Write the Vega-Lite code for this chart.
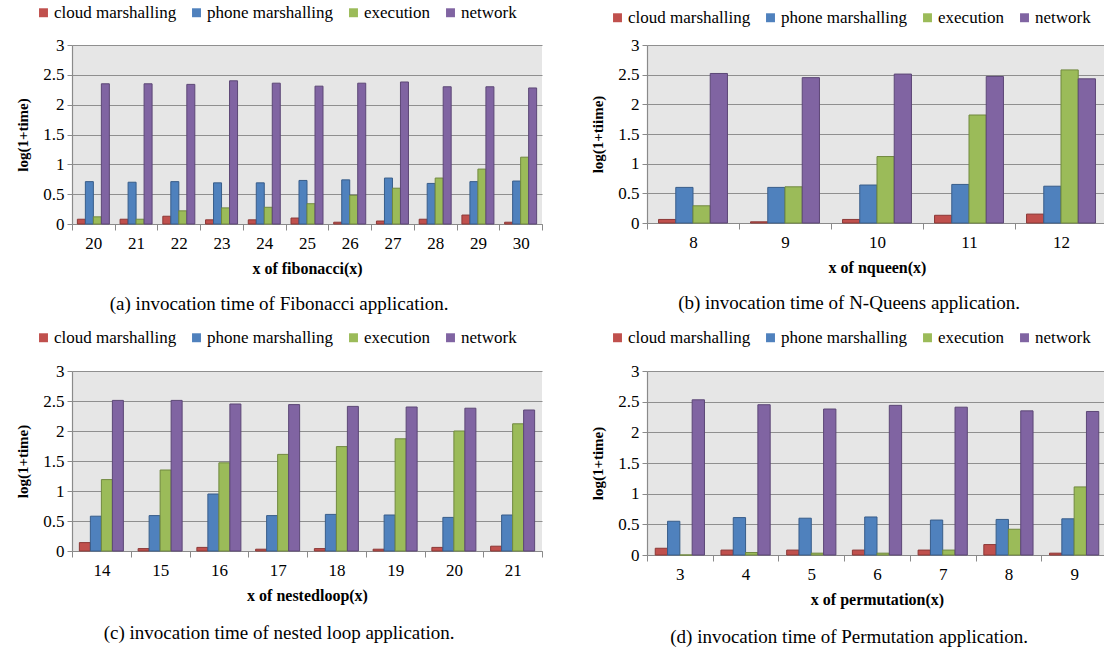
{
  "$schema": "https://vega.github.io/schema/vega-lite/v6.json",
  "padding": {"left": 15, "top": 4, "right": 0, "bottom": 0},
  "background": "white",
  "data": {"values": [
    {"panel":"a","x":20,"series":"cloud marshalling","value":0.08},
    {"panel":"a","x":20,"series":"phone marshalling","value":0.71},
    {"panel":"a","x":20,"series":"execution","value":0.12},
    {"panel":"a","x":20,"series":"network","value":2.35},
    {"panel":"a","x":21,"series":"cloud marshalling","value":0.08},
    {"panel":"a","x":21,"series":"phone marshalling","value":0.70},
    {"panel":"a","x":21,"series":"execution","value":0.08},
    {"panel":"a","x":21,"series":"network","value":2.35},
    {"panel":"a","x":22,"series":"cloud marshalling","value":0.13},
    {"panel":"a","x":22,"series":"phone marshalling","value":0.71},
    {"panel":"a","x":22,"series":"execution","value":0.22},
    {"panel":"a","x":22,"series":"network","value":2.34},
    {"panel":"a","x":23,"series":"cloud marshalling","value":0.07},
    {"panel":"a","x":23,"series":"phone marshalling","value":0.69},
    {"panel":"a","x":23,"series":"execution","value":0.27},
    {"panel":"a","x":23,"series":"network","value":2.40},
    {"panel":"a","x":24,"series":"cloud marshalling","value":0.07},
    {"panel":"a","x":24,"series":"phone marshalling","value":0.69},
    {"panel":"a","x":24,"series":"execution","value":0.28},
    {"panel":"a","x":24,"series":"network","value":2.36},
    {"panel":"a","x":25,"series":"cloud marshalling","value":0.10},
    {"panel":"a","x":25,"series":"phone marshalling","value":0.73},
    {"panel":"a","x":25,"series":"execution","value":0.34},
    {"panel":"a","x":25,"series":"network","value":2.31},
    {"panel":"a","x":26,"series":"cloud marshalling","value":0.03},
    {"panel":"a","x":26,"series":"phone marshalling","value":0.74},
    {"panel":"a","x":26,"series":"execution","value":0.48},
    {"panel":"a","x":26,"series":"network","value":2.36},
    {"panel":"a","x":27,"series":"cloud marshalling","value":0.05},
    {"panel":"a","x":27,"series":"phone marshalling","value":0.77},
    {"panel":"a","x":27,"series":"execution","value":0.60},
    {"panel":"a","x":27,"series":"network","value":2.38},
    {"panel":"a","x":28,"series":"cloud marshalling","value":0.08},
    {"panel":"a","x":28,"series":"phone marshalling","value":0.68},
    {"panel":"a","x":28,"series":"execution","value":0.77},
    {"panel":"a","x":28,"series":"network","value":2.30},
    {"panel":"a","x":29,"series":"cloud marshalling","value":0.15},
    {"panel":"a","x":29,"series":"phone marshalling","value":0.71},
    {"panel":"a","x":29,"series":"execution","value":0.92},
    {"panel":"a","x":29,"series":"network","value":2.30},
    {"panel":"a","x":30,"series":"cloud marshalling","value":0.03},
    {"panel":"a","x":30,"series":"phone marshalling","value":0.72},
    {"panel":"a","x":30,"series":"execution","value":1.12},
    {"panel":"a","x":30,"series":"network","value":2.28},
    {"panel":"b","x":8,"series":"cloud marshalling","value":0.06},
    {"panel":"b","x":8,"series":"phone marshalling","value":0.60},
    {"panel":"b","x":8,"series":"execution","value":0.29},
    {"panel":"b","x":8,"series":"network","value":2.52},
    {"panel":"b","x":9,"series":"cloud marshalling","value":0.02},
    {"panel":"b","x":9,"series":"phone marshalling","value":0.60},
    {"panel":"b","x":9,"series":"execution","value":0.61},
    {"panel":"b","x":9,"series":"network","value":2.45},
    {"panel":"b","x":10,"series":"cloud marshalling","value":0.06},
    {"panel":"b","x":10,"series":"phone marshalling","value":0.64},
    {"panel":"b","x":10,"series":"execution","value":1.12},
    {"panel":"b","x":10,"series":"network","value":2.51},
    {"panel":"b","x":11,"series":"cloud marshalling","value":0.13},
    {"panel":"b","x":11,"series":"phone marshalling","value":0.65},
    {"panel":"b","x":11,"series":"execution","value":1.82},
    {"panel":"b","x":11,"series":"network","value":2.47},
    {"panel":"b","x":12,"series":"cloud marshalling","value":0.15},
    {"panel":"b","x":12,"series":"phone marshalling","value":0.62},
    {"panel":"b","x":12,"series":"execution","value":2.58},
    {"panel":"b","x":12,"series":"network","value":2.43},
    {"panel":"c","x":14,"series":"cloud marshalling","value":0.14},
    {"panel":"c","x":14,"series":"phone marshalling","value":0.58},
    {"panel":"c","x":14,"series":"execution","value":1.19},
    {"panel":"c","x":14,"series":"network","value":2.51},
    {"panel":"c","x":15,"series":"cloud marshalling","value":0.04},
    {"panel":"c","x":15,"series":"phone marshalling","value":0.59},
    {"panel":"c","x":15,"series":"execution","value":1.35},
    {"panel":"c","x":15,"series":"network","value":2.51},
    {"panel":"c","x":16,"series":"cloud marshalling","value":0.06},
    {"panel":"c","x":16,"series":"phone marshalling","value":0.95},
    {"panel":"c","x":16,"series":"execution","value":1.47},
    {"panel":"c","x":16,"series":"network","value":2.45},
    {"panel":"c","x":17,"series":"cloud marshalling","value":0.03},
    {"panel":"c","x":17,"series":"phone marshalling","value":0.59},
    {"panel":"c","x":17,"series":"execution","value":1.61},
    {"panel":"c","x":17,"series":"network","value":2.44},
    {"panel":"c","x":18,"series":"cloud marshalling","value":0.04},
    {"panel":"c","x":18,"series":"phone marshalling","value":0.61},
    {"panel":"c","x":18,"series":"execution","value":1.74},
    {"panel":"c","x":18,"series":"network","value":2.41},
    {"panel":"c","x":19,"series":"cloud marshalling","value":0.03},
    {"panel":"c","x":19,"series":"phone marshalling","value":0.60},
    {"panel":"c","x":19,"series":"execution","value":1.87},
    {"panel":"c","x":19,"series":"network","value":2.40},
    {"panel":"c","x":20,"series":"cloud marshalling","value":0.06},
    {"panel":"c","x":20,"series":"phone marshalling","value":0.56},
    {"panel":"c","x":20,"series":"execution","value":2.00},
    {"panel":"c","x":20,"series":"network","value":2.38},
    {"panel":"c","x":21,"series":"cloud marshalling","value":0.08},
    {"panel":"c","x":21,"series":"phone marshalling","value":0.60},
    {"panel":"c","x":21,"series":"execution","value":2.12},
    {"panel":"c","x":21,"series":"network","value":2.35},
    {"panel":"d","x":3,"series":"cloud marshalling","value":0.11},
    {"panel":"d","x":3,"series":"phone marshalling","value":0.55},
    {"panel":"d","x":3,"series":"execution","value":0.0},
    {"panel":"d","x":3,"series":"network","value":2.53},
    {"panel":"d","x":4,"series":"cloud marshalling","value":0.08},
    {"panel":"d","x":4,"series":"phone marshalling","value":0.61},
    {"panel":"d","x":4,"series":"execution","value":0.04},
    {"panel":"d","x":4,"series":"network","value":2.45},
    {"panel":"d","x":5,"series":"cloud marshalling","value":0.08},
    {"panel":"d","x":5,"series":"phone marshalling","value":0.60},
    {"panel":"d","x":5,"series":"execution","value":0.03},
    {"panel":"d","x":5,"series":"network","value":2.38},
    {"panel":"d","x":6,"series":"cloud marshalling","value":0.08},
    {"panel":"d","x":6,"series":"phone marshalling","value":0.62},
    {"panel":"d","x":6,"series":"execution","value":0.03},
    {"panel":"d","x":6,"series":"network","value":2.44},
    {"panel":"d","x":7,"series":"cloud marshalling","value":0.08},
    {"panel":"d","x":7,"series":"phone marshalling","value":0.57},
    {"panel":"d","x":7,"series":"execution","value":0.08},
    {"panel":"d","x":7,"series":"network","value":2.41},
    {"panel":"d","x":8,"series":"cloud marshalling","value":0.17},
    {"panel":"d","x":8,"series":"phone marshalling","value":0.58},
    {"panel":"d","x":8,"series":"execution","value":0.42},
    {"panel":"d","x":8,"series":"network","value":2.35},
    {"panel":"d","x":9,"series":"cloud marshalling","value":0.03},
    {"panel":"d","x":9,"series":"phone marshalling","value":0.59},
    {"panel":"d","x":9,"series":"execution","value":1.11},
    {"panel":"d","x":9,"series":"network","value":2.34}
  ]},
  "resolve": {"scale": {"color": "independent", "stroke": "independent", "x": "independent", "y": "independent", "xOffset": "independent"}, "legend": {"color": "independent"}},
  "spacing": 15,
  "vconcat": [
    {
      "spacing": 47,
      "resolve": {"scale": {"color": "independent", "stroke": "independent", "x": "independent", "y": "independent", "xOffset": "independent"}, "legend": {"color": "independent"}},
      "hconcat": [
        {
          "width": 470, "height": 179,
          "title": {"text": "(a) invocation time of Fibonacci application.", "offset": 19},
          "transform": [{"filter": "datum.panel === 'a'"}],
          "mark": {"type": "bar", "strokeWidth": 1},
          "encoding": {
            "x": {"field": "x", "type": "ordinal", "title": "x of fibonacci(x)", "scale": {"paddingInner": 0, "paddingOuter": 0}},
            "xOffset": {"field": "series", "type": "nominal", "sort": ["cloud marshalling", "phone marshalling", "execution", "network"], "scale": {"paddingInner": 0, "paddingOuter": 0.67}},
            "y": {"field": "value", "type": "quantitative", "title": "log(1+time)", "scale": {"domain": [0, 3]}},
            "color": {"field": "series", "type": "nominal", "scale": {"domain": ["cloud marshalling", "phone marshalling", "execution", "network"], "range": ["#c0504d", "#4f81bd", "#9bbb59", "#8064a2"]}, "legend": {"legendX": -37, "legendY": -41}},
            "stroke": {"field": "series", "type": "nominal", "scale": {"domain": ["cloud marshalling", "phone marshalling", "execution", "network"], "range": ["#8c3836", "#385d8a", "#71893f", "#5c4776"]}, "legend": null}
          }
        },
        {
          "width": 460, "height": 178,
          "title": {"text": "(b) invocation time of N-Queens application.", "offset": 19},
          "transform": [{"filter": "datum.panel === 'b'"}],
          "mark": {"type": "bar", "strokeWidth": 1},
          "encoding": {
            "x": {"field": "x", "type": "ordinal", "title": "x of nqueen(x)", "scale": {"paddingInner": 0, "paddingOuter": 0}},
            "xOffset": {"field": "series", "type": "nominal", "sort": ["cloud marshalling", "phone marshalling", "execution", "network"], "scale": {"paddingInner": 0, "paddingOuter": 0.67}},
            "y": {"field": "value", "type": "quantitative", "title": "log(1+tiime)", "scale": {"domain": [0, 3]}},
            "color": {"field": "series", "type": "nominal", "scale": {"domain": ["cloud marshalling", "phone marshalling", "execution", "network"], "range": ["#c0504d", "#4f81bd", "#9bbb59", "#8064a2"]}, "legend": {"legendX": -38, "legendY": -36}},
            "stroke": {"field": "series", "type": "nominal", "scale": {"domain": ["cloud marshalling", "phone marshalling", "execution", "network"], "range": ["#8c3836", "#385d8a", "#71893f", "#5c4776"]}, "legend": null}
          }
        }
      ]
    },
    {
      "spacing": 47,
      "resolve": {"scale": {"color": "independent", "stroke": "independent", "x": "independent", "y": "independent", "xOffset": "independent"}, "legend": {"color": "independent"}},
      "hconcat": [
        {
          "width": 470, "height": 180,
          "title": {"text": "(c) invocation time of nested loop application.", "offset": 21},
          "transform": [{"filter": "datum.panel === 'c'"}],
          "mark": {"type": "bar", "strokeWidth": 1},
          "encoding": {
            "x": {"field": "x", "type": "ordinal", "title": "x of nestedloop(x)", "scale": {"paddingInner": 0, "paddingOuter": 0}},
            "xOffset": {"field": "series", "type": "nominal", "sort": ["cloud marshalling", "phone marshalling", "execution", "network"], "scale": {"paddingInner": 0, "paddingOuter": 0.67}},
            "y": {"field": "value", "type": "quantitative", "title": "log(1+time)", "scale": {"domain": [0, 3]}},
            "color": {"field": "series", "type": "nominal", "scale": {"domain": ["cloud marshalling", "phone marshalling", "execution", "network"], "range": ["#c0504d", "#4f81bd", "#9bbb59", "#8064a2"]}, "legend": {"legendX": -37, "legendY": -42}},
            "stroke": {"field": "series", "type": "nominal", "scale": {"domain": ["cloud marshalling", "phone marshalling", "execution", "network"], "range": ["#8c3836", "#385d8a", "#71893f", "#5c4776"]}, "legend": null}
          }
        },
        {
          "width": 460, "height": 184,
          "title": {"text": "(d) invocation time of Permutation application.", "offset": 21},
          "transform": [{"filter": "datum.panel === 'd'"}],
          "mark": {"type": "bar", "strokeWidth": 1},
          "encoding": {
            "x": {"field": "x", "type": "ordinal", "title": "x of permutation(x)", "scale": {"paddingInner": 0, "paddingOuter": 0}},
            "xOffset": {"field": "series", "type": "nominal", "sort": ["cloud marshalling", "phone marshalling", "execution", "network"], "scale": {"paddingInner": 0, "paddingOuter": 0.67}},
            "y": {"field": "value", "type": "quantitative", "title": "log(1+time)", "scale": {"domain": [0, 3]}},
            "color": {"field": "series", "type": "nominal", "scale": {"domain": ["cloud marshalling", "phone marshalling", "execution", "network"], "range": ["#c0504d", "#4f81bd", "#9bbb59", "#8064a2"]}, "legend": {"legendX": -38, "legendY": -42}},
            "stroke": {"field": "series", "type": "nominal", "scale": {"domain": ["cloud marshalling", "phone marshalling", "execution", "network"], "range": ["#8c3836", "#385d8a", "#71893f", "#5c4776"]}, "legend": null}
          }
        }
      ]
    }
  ],
  "config": {
    "font": "Liberation Serif",
    "view": {"fill": "#e6e6e6", "stroke": null},
    "title": {"orient": "bottom", "anchor": "middle", "frame": "bounds", "offset": 19, "font": "Liberation Serif", "fontSize": 19, "fontWeight": "normal", "color": "#000000"},
    "axis": {"labelFont": "Liberation Serif", "labelFontSize": 17, "labelColor": "#000000", "titleFont": "Liberation Serif", "titleFontWeight": "bold", "titleColor": "#000000", "domainColor": "#8a8a8a", "tickColor": "#8a8a8a", "gridColor": "#8f8f8f", "gridWidth": 1.2, "domainWidth": 1.2},
    "axisX": {"tickBand": "extent", "labelAngle": 0, "grid": false, "tickSize": 6, "labelPadding": 5, "titleFontSize": 16, "titlePadding": 9},
    "axisY": {"values": [0, 0.5, 1, 1.5, 2, 2.5, 3], "format": "~g", "grid": true, "tickSize": 5, "labelPadding": 3, "titleFontSize": 15, "titlePadding": 12},
    "legend": {"orient": "none", "direction": "horizontal", "symbolType": "square", "symbolSize": 80, "symbolStrokeWidth": 0, "labelFont": "Liberation Serif", "labelFontSize": 17, "labelColor": "#000000", "labelOffset": 2, "columnPadding": 11, "title": null, "labelLimit": 300}
  }
}
